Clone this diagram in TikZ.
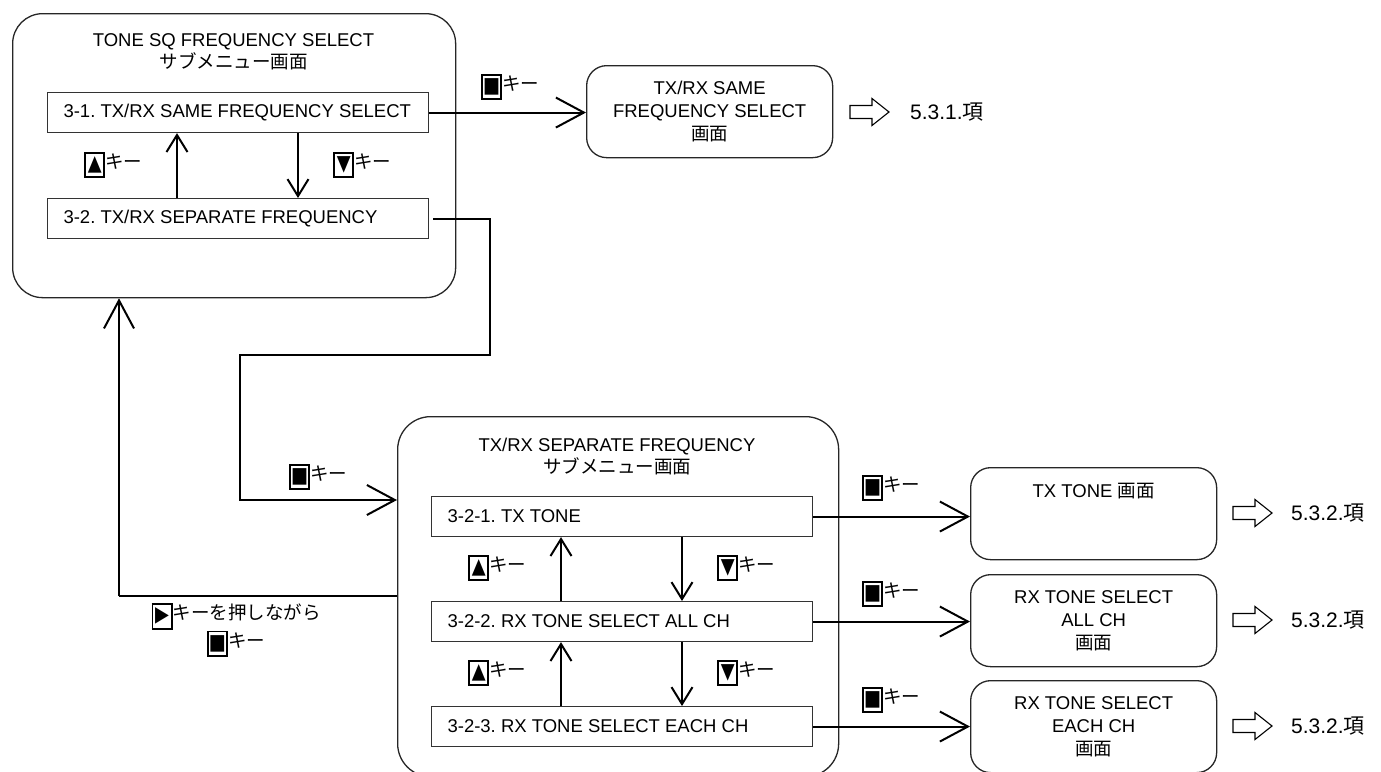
\documentclass[tikz,border=0pt]{standalone}
\usepackage{fontspec}
\usepackage{graphicx}
\setmainfont{Liberation Sans}
\newfontfamily\jp{Noto Sans CJK JP}
\newfontfamily\sym{DejaVu Sans}
\usetikzlibrary{arrows.meta}
\frenchspacing

% framed key symbol, e.g. \keycap{■}
\newcommand\keycap[1]{\raisebox{-7pt}{\setlength\fboxrule{1.8pt}\setlength\fboxsep{1.2pt}%
  \fbox{\vbox to 20.5pt{\vss\hbox to 15pt{\hss\fontsize{18}{18}\sym\scalebox{1}[1.2]{#1}\hss}\vss}}}}
% key symbol followed by "キー"
\newcommand\keylbl[1]{\keycap{#1}{\jp キー}}
% one-line menu entry text
\newcommand\entry[1]{\makebox[349pt][l]{#1}}

\tikzset{
  panel/.style={draw=black!85, line width=1.3pt, rounded corners=30pt,
    anchor=north west, inner sep=0pt},
  item/.style={draw=black!80, line width=1.1pt, anchor=north west,
    minimum height=40pt, inner xsep=16pt, inner ysep=0pt},
  screen/.style={draw=black!85, line width=1.3pt, rounded corners=20pt,
    anchor=north west, minimum width=246pt, minimum height=92pt, inner sep=0pt,
    align=center, font=\fontsize{18.5}{23}\selectfont},
  title/.style={align=center, inner sep=0pt},
  conn/.style={line width=2pt, -{Straight Barb[length=28pt,width=30pt]}},
  updown/.style={line width=2pt, -{Straight Barb[length=17pt,width=21pt]}},
  thinline/.style={line width=1.1pt},
  keytag/.style={anchor=west, inner sep=0pt},
  secref/.style={anchor=west, inner sep=0pt, font=\fontsize{21}{24}\selectfont},
  hollow/.pic={\draw[line width=1.1pt, line join=miter]
    (0,-6.5) -- (22,-6.5) -- (22,-13.5) -- (39,0) -- (22,13.5) -- (22,6.5) -- (0,6.5) -- cycle;}
}

\begin{document}
\begin{tikzpicture}[x=1pt, y=-1pt, font=\fontsize{18.5}{22}\selectfont]
\useasboundingbox (0,0) rectangle (1381,771);
\clip (0,0) rectangle (1381,771);

% ---- TONE SQ FREQUENCY SELECT submenu ----
\node[panel, minimum width=443pt, minimum height=284pt] (sq) at (12,13) {};
\node[title] (sqt) at (233.5,52) {TONE SQ FREQUENCY SELECT\\{\jp サブメニュー画面}};
\node[item] (s31) at (47,92) {\entry{3-1. TX/RX SAME FREQUENCY SELECT}};
\node[item] (s32) at (47,198) {\entry{3-2. TX/RX SEPARATE FREQUENCY}};
\draw[updown] ([xshift=130pt]s32.north west) -- ([xshift=130pt]s31.south west);
\draw[updown] ([xshift=251pt]s31.south west) -- ([xshift=251pt]s32.north west);
\node[keytag] (squp) at (84,165) {\keylbl{▲}};
\node[keytag] (sqdn) at (333,165) {\keylbl{▼}};

% ---- TX/RX SAME FREQUENCY SELECT screen ----
\node[screen] (same) at (586,65) {TX/RX SAME\\FREQUENCY SELECT\\{\jp 画面}};
\draw[conn] (s31.east) -- (s31.east -| same.west);
\node[keytag] (ksame) at (481,87) {\keylbl{■}};
\pic at (850,112) {hollow};
\node[secref] (ref1) at (910,112) {5.3.1.{\jp 項}};

% ---- TX/RX SEPARATE FREQUENCY submenu ----
\node[panel, rounded corners=33pt, minimum width=441pt, minimum height=360pt] (sep) at (397,416) {};
\node[title] (sept) at (617,457) {TX/RX SEPARATE FREQUENCY\\{\jp サブメニュー画面}};
\node[item] (i1) at (431,496) {\entry{3-2-1. TX TONE}};
\node[item] (i2) at (431,601) {\entry{3-2-2. RX TONE SELECT ALL CH}};
\node[item] (i3) at (431,706) {\entry{3-2-3. RX TONE SELECT EACH CH}};
\draw[updown] ([xshift=130pt]i2.north west) -- ([xshift=130pt]i1.south west);
\draw[updown] ([xshift=251pt]i1.south west) -- ([xshift=251pt]i2.north west);
\draw[updown] ([xshift=130pt]i3.north west) -- ([xshift=130pt]i2.south west);
\draw[updown] ([xshift=251pt]i2.south west) -- ([xshift=251pt]i3.north west);
\node[keytag] (u1) at (468,568) {\keylbl{▲}};
\node[keytag] (d1) at (717,568) {\keylbl{▼}};
\node[keytag] (u2) at (468,673) {\keylbl{▲}};
\node[keytag] (d2) at (717,673) {\keylbl{▼}};

% entry into the separate-frequency submenu
\coordinate (t1) at (490,355);
\coordinate (t2) at (240,500);
\draw[conn, shorten <=4pt] (s32.east) -| (t1) -| (t2) -- (t2 -| sep.west);
\node[keytag] (ksep) at (289,477) {\keylbl{■}};

% return to the top submenu
\coordinate (t3) at (119,596);
\draw[thinline] (sep.west |- t3) -- (t3);
\draw[conn] (t3) -- (t3 |- sq.south);
\node[title] (hold) at (236,630) {\keycap{▶}{\jp キーを押しながら}\\\keylbl{■}};

% ---- result screens ----
\node[screen] (r1) at (970,467) {TX TONE {\jp 画面}\\\mbox{}\\\mbox{}};
\node[screen] (r2) at (970,574) {RX TONE SELECT\\ALL CH\\{\jp 画面}};
\node[screen] (r3) at (970,680) {RX TONE SELECT\\EACH CH\\{\jp 画面}};
\draw[conn] (i1.east) -- (i1.east -| r1.west);
\draw[conn] (i2.east) -- (i2.east -| r2.west);
\draw[conn] (i3.east) -- (i3.east -| r3.west);
\node[keytag] (k1) at (862,488) {\keylbl{■}};
\node[keytag] (k2) at (862,594) {\keylbl{■}};
\node[keytag] (k3) at (862,700) {\keylbl{■}};
\pic at (1233,513) {hollow};
\pic at (1233,620) {hollow};
\pic at (1233,726) {hollow};
\node[secref] (ref2) at (1291,513) {5.3.2.{\jp 項}};
\node[secref] (ref3) at (1291,620) {5.3.2.{\jp 項}};
\node[secref] (ref4) at (1291,726) {5.3.2.{\jp 項}};
\end{tikzpicture}
\end{document}
